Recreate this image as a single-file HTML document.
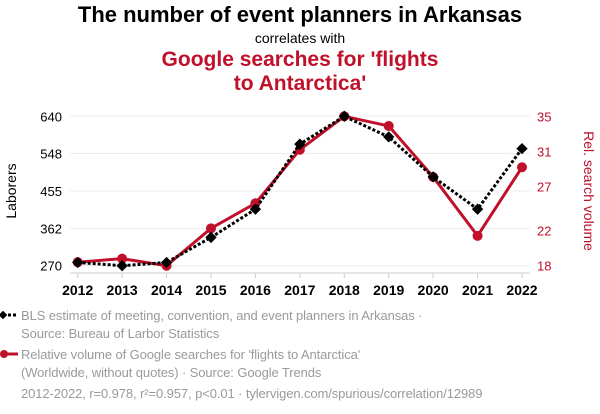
<!DOCTYPE html>
<html><head><meta charset="utf-8">
<style>
body{margin:0;background:#fff;font-family:"Liberation Sans",sans-serif;}
#wrap{position:relative;width:600px;height:414px;overflow:hidden;}
.t{position:absolute;left:0;width:600px;text-align:center;}
.leg{position:absolute;left:21px;font-size:13px;color:#9a9a9a;line-height:18px;letter-spacing:-0.1px;}
</style></head><body>
<div id="wrap">
<div class="t" style="top:2px;font-size:22px;font-weight:bold;color:#000">The number of event planners in Arkansas</div>
<div class="t" style="top:30px;font-size:14px;color:#000">correlates with</div>
<div class="t" style="top:48px;font-size:21px;font-weight:bold;color:#c0102a;line-height:24px">Google searches for 'flights<br>to Antarctica'</div>
<svg id="svg" width="600" height="300" style="position:absolute;left:0;top:0"></svg>
<div class="leg" style="top:307px">BLS estimate of meeting, convention, and event planners in Arkansas ·<br>Source: Bureau of Larbor Statistics</div>
<div class="leg" style="top:346px">Relative volume of Google searches for 'flights to Antarctica'<br>(Worldwide, without quotes) · Source: Google Trends</div>
<div class="leg" style="top:385px">2012-2022, r=0.978, r²=0.957, p&lt;0.01 · tylervigen.com/spurious/correlation/12989</div>
<svg width="24" height="100" style="position:absolute;left:0;top:305px">
<line x1="3" y1="10" x2="18" y2="10" stroke="#000" stroke-width="3" stroke-dasharray="3,2"/>
<rect x="0" y="7" width="6" height="6" transform="rotate(45 3 10)" fill="#000"/>
<line x1="3" y1="49" x2="18" y2="49" stroke="#c0102a" stroke-width="3"/>
<circle cx="4" cy="49" r="4" fill="#c0102a"/>
</svg>
</div>
<script>
const years=[2012,2013,2014,2015,2016,2017,2018,2019,2020,2021,2022];
const laborers=[278,270,278,340,410,571,640,589,490,410,560];
const searches=[18.4,18.8,18,22.25,25.1,31.2,35,33.9,28.1,21.4,29.2];
const leftTicks=[270,362,455,548,640];
const rightTicks=[18,22,27,31,35];
const ns="http://www.w3.org/2000/svg";
const svg=document.getElementById('svg');
const x=y=>77.7+(y-2012)*(522-77.7)/10;
const yl=v=>265.7-(v-270)*(265.7-116.3)/(640-270);
const yr=v=>265.7-(v-18)*(265.7-116.3)/(35-18);
function mk(t,a){const e=document.createElementNS(ns,t);for(const k in a)e.setAttribute(k,a[k]);svg.appendChild(e);return e;}
leftTicks.forEach((v,i)=>{
 const g=mk('line',{x1:70,x2:530,y1:yl(v),y2:yl(v),stroke:'#eee','stroke-width':1});
 
 
 const t=mk('text',{x:62,y:yl(v)+5,'text-anchor':'end','font-size':13,fill:'#000'});t.textContent=v;
 
 
});
rightTicks.forEach(v=>{
 const t=mk('text',{x:537,y:yr(v)+5,'font-size':13,fill:'#c0102a'});t.textContent=v;
 
 
});
const ax=mk('line',{x1:70,x2:530,y1:273,y2:273,stroke:'#ccc','stroke-width':1});


years.forEach(yv=>{
 mk('line',{x1:x(yv),x2:x(yv),y1:273,y2:278,stroke:'#ccc'});
 const t=mk('text',{x:x(yv),y:295,'text-anchor':'middle','font-size':14,'font-weight':'bold',fill:'#000'});t.textContent=yv;
 
 
});
const lt=mk('text',{x:0,y:0,transform:'translate(16,191) rotate(-90)','text-anchor':'middle','font-size':14,fill:'#000'});lt.textContent='Laborers';


const rt=mk('text',{x:0,y:0,transform:'translate(584,191) rotate(90)','text-anchor':'middle','font-size':14,fill:'#c0102a'});rt.textContent='Rel. search volume';


const rp=mk('polyline',{points:years.map((yv,i)=>x(yv)+','+yr(searches[i])).join(' '),fill:'none',stroke:'#c0102a','stroke-width':3});


years.forEach((yv,i)=>{
 const c=mk('circle',{cx:x(yv),cy:yr(searches[i]),r:5,fill:'#c0102a'});
 
 
});
const bp=mk('polyline',{points:years.map((yv,i)=>x(yv)+','+yl(laborers[i])).join(' '),fill:'none',stroke:'#000','stroke-width':3,'stroke-dasharray':'3,2'});


years.forEach((yv,i)=>{
 const cx=x(yv),cy=yl(laborers[i]);
 const d=mk('rect',{x:cx-4,y:cy-4,width:8,height:8,fill:'#000',transform:`rotate(45 ${cx} ${cy})`});
 
 
});
</script>
</body></html>
